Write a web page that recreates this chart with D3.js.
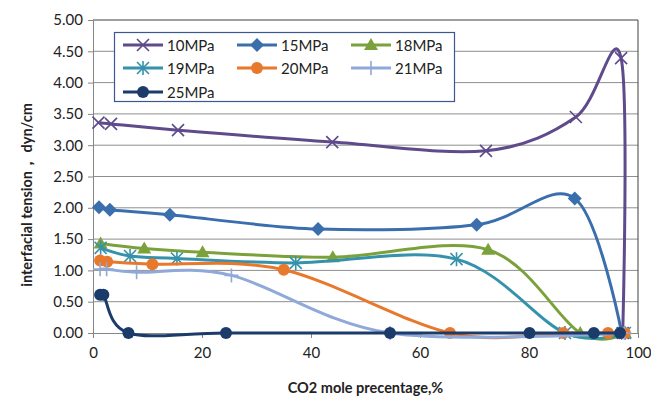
<!DOCTYPE html>
<html>
<head>
<meta charset="utf-8">
<script src="https://cdn.jsdelivr.net/npm/d3@7"></script>
<style>
  body { margin: 0; background: #fff; }
  text { font-family: Lato, "Open Sans", sans-serif; fill: #222; }
</style>
</head>
<body>
<div id="chart"></div>
<script>
// series data: [CO2 mole %, IFT dyn/cm]
var p10 = [[1.0, 3.36], [3.3, 3.34], [15.6, 3.24], [43.9, 3.05], [72.1, 2.91], [88.6, 3.45], [96.9, 4.39], [97.2, 0]];
var p15 = [[1.1, 2.01], [3.1, 1.97], [14.1, 1.89], [41.3, 1.66], [70.4, 1.73], [88.4, 2.15], [97.0, 0]];
var p18 = [[1.4, 1.43], [9.4, 1.35], [20.1, 1.29], [44.0, 1.21], [72.5, 1.33], [89.4, 0], [97.6, 0]];
var p19 = [[1.4, 1.36], [6.8, 1.23], [15.4, 1.19], [37.2, 1.12], [66.7, 1.18], [86.6, 0], [97.6, 0]];
var p20 = [[1.3, 1.16], [2.6, 1.14], [10.9, 1.10], [35.0, 1.01], [65.5, 0], [86.3, 0], [94.5, 0], [97.6, 0]];
var p21 = [[1.3, 1.02], [2.5, 1.02], [8.0, 0.97], [25.4, 0.92], [54.5, 0], [97.5, 0]];
var p25 = [[1.3, 0.61], [1.9, 0.61], [6.5, 0], [24.4, 0], [54.5, 0], [80.1, 0], [91.9, 0], [96.7, 0]];

var seriesNames = ["10MPa", "15MPa", "18MPa", "19MPa", "20MPa", "21MPa", "25MPa"];
var seriesData = [p10, p15, p18, p19, p20, p21, p25];
var seriesColors = ["#5f4a8b", "#3a6ead", "#7ba23a", "#3592ab", "#e8792c", "#8fa9d8", "#1b3b6b"];
var seriesMarkers = ["x", "diamond", "triangle", "star", "circle", "plus", "circle"];

var xTicks = [0, 20, 40, 60, 80, 100];
var yTicks = [0, 0.5, 1, 1.5, 2, 2.5, 3, 3.5, 4, 4.5, 5];

var width = 651, height = 402;
var margin = {top: 20, right: 13, bottom: 69, left: 93};

var svg = d3.select("#chart").append("svg")
    .attr("width", width)
    .attr("height", height);

var x = d3.scaleLinear().domain([0, 100]).range([margin.left, width - margin.right]);
var y = d3.scaleLinear().domain([0, 5]).range([height - margin.bottom, margin.top]);

//gridlines
svg.append("g").selectAll("line")
    .data(yTicks.slice(1))
    .enter().append("line")
    .attr("x1", x(0)).attr("x2", x(100))
    .attr("y1", function (d) { return y(d); })
    .attr("y2", function (d) { return y(d); })
    .attr("stroke", function (d) { return d == 5 ? "#404040" : "#8e8e8e"; })
    .attr("stroke-width", 1);

// right border
svg.append("line")
    .attr("x1", x(100)).attr("x2", x(100))
    .attr("y1", y(5)).attr("y2", y(0))
    .attr("stroke", "#404040");

// axes
var yAxis = svg.append("g")
    .attr("transform", "translate(" + x(0) + ",0)")
    .call(d3.axisLeft(y).tickValues(yTicks).tickFormat(d3.format(".2f")).tickSize(5).tickPadding(5));
var xAxis = svg.append("g")
    .attr("transform", "translate(0," + y(0) + ")")
    .call(d3.axisBottom(x).tickValues(xTicks).tickSize(5).tickPadding(9));

[xAxis, yAxis].forEach(function (a) {
    a.select(".domain").attr("stroke", "#868686");
    a.selectAll(".tick line").attr("stroke", "#868686");
    a.selectAll(".tick text").style("font-size", "15px").attr("fill", "#222");
});

// axis titles
svg.append("text")
    .attr("x", (x(0) + x(100)) / 2)
    .attr("y", 393)
    .attr("text-anchor", "middle")
    .style("font-size", "14.5px")
    .style("font-weight", "bold")
    .text("CO2 mole precentage,%");

svg.append("text")
    .attr("transform", "translate(32,195) rotate(-90)")
    .attr("text-anchor", "middle")
    .style("font-size", "14.5px")
    .style("font-weight", "bold")
    .text("interfacial tension， dyn/cm");

// draws a marker of a given type at the origin of g
function drawMarker(g, type, color) {
    if (type == "circle") {
        g.append("circle").attr("r", 6).attr("fill", color);
    } else if (type == "diamond") {
        g.append("path").attr("d", "M0,-7L7,0L0,7L-7,0Z").attr("fill", color);
    } else if (type == "triangle") {
        g.append("path").attr("d", "M0,-7L7,5L-7,5Z").attr("fill", color);
    } else if (type == "x") {
        g.append("path").attr("d", "M-6,-6L6,6M-6,6L6,-6")
            .attr("stroke", color).attr("stroke-width", 1.6).attr("fill", "none");
    } else if (type == "star") {
        g.append("path").attr("d", "M-6,-6L6,6M-6,6L6,-6M0,-7L0,7")
            .attr("stroke", color).attr("stroke-width", 1.6).attr("fill", "none");
    } else if (type == "plus") {
        g.append("path").attr("d", "M-7,0L7,0M0,-7L0,7")
            .attr("stroke", color).attr("stroke-width", 1.6).attr("fill", "none");
    }
}

var line = d3.line()
    .x(function (d) { return x(d[0]); })
    .y(function (d) { return y(d[1]); })
    .curve(d3.curveCardinal.tension(0));

// series drawn in order, later ones on top like excel does
for (var i = 0; i < seriesData.length; i++) {
    var g = svg.append("g");
    g.append("path")
        .datum(seriesData[i])
        .attr("d", line)
        .attr("fill", "none")
        .attr("stroke", seriesColors[i])
        .attr("stroke-width", 3);
    seriesData[i].forEach(function (d) {
        var m = g.append("g").attr("transform", "translate(" + x(d[0]) + "," + y(d[1]) + ")");
        drawMarker(m, seriesMarkers[i], seriesColors[i]);
    });
}

// legend
var legend = svg.append("g");
legend.append("rect")
    .attr("x", 114.5).attr("y", 32.5)
    .attr("width", 340).attr("height", 69)
    .attr("fill", "#fff")
    .attr("stroke", "#3b5890")
    .attr("stroke-width", 1.2);

var colX = [123, 237, 351];
var rowY = [45, 68, 92];
seriesNames.forEach(function (name, i) {
    var lx = colX[i % 3], ly = rowY[Math.floor(i / 3)];
    var item = legend.append("g");
    item.append("line")
        .attr("x1", lx).attr("x2", lx + 40)
        .attr("y1", ly).attr("y2", ly)
        .attr("stroke", seriesColors[i]).attr("stroke-width", 3);
    drawMarker(item.append("g").attr("transform", "translate(" + (lx + 20) + "," + ly + ")"),
        seriesMarkers[i], seriesColors[i]);
    item.append("text")
        .attr("x", lx + 44).attr("y", ly + 5.5)
        .style("font-size", "15px")
        .text(name);
});
</script>
</body>
</html>
